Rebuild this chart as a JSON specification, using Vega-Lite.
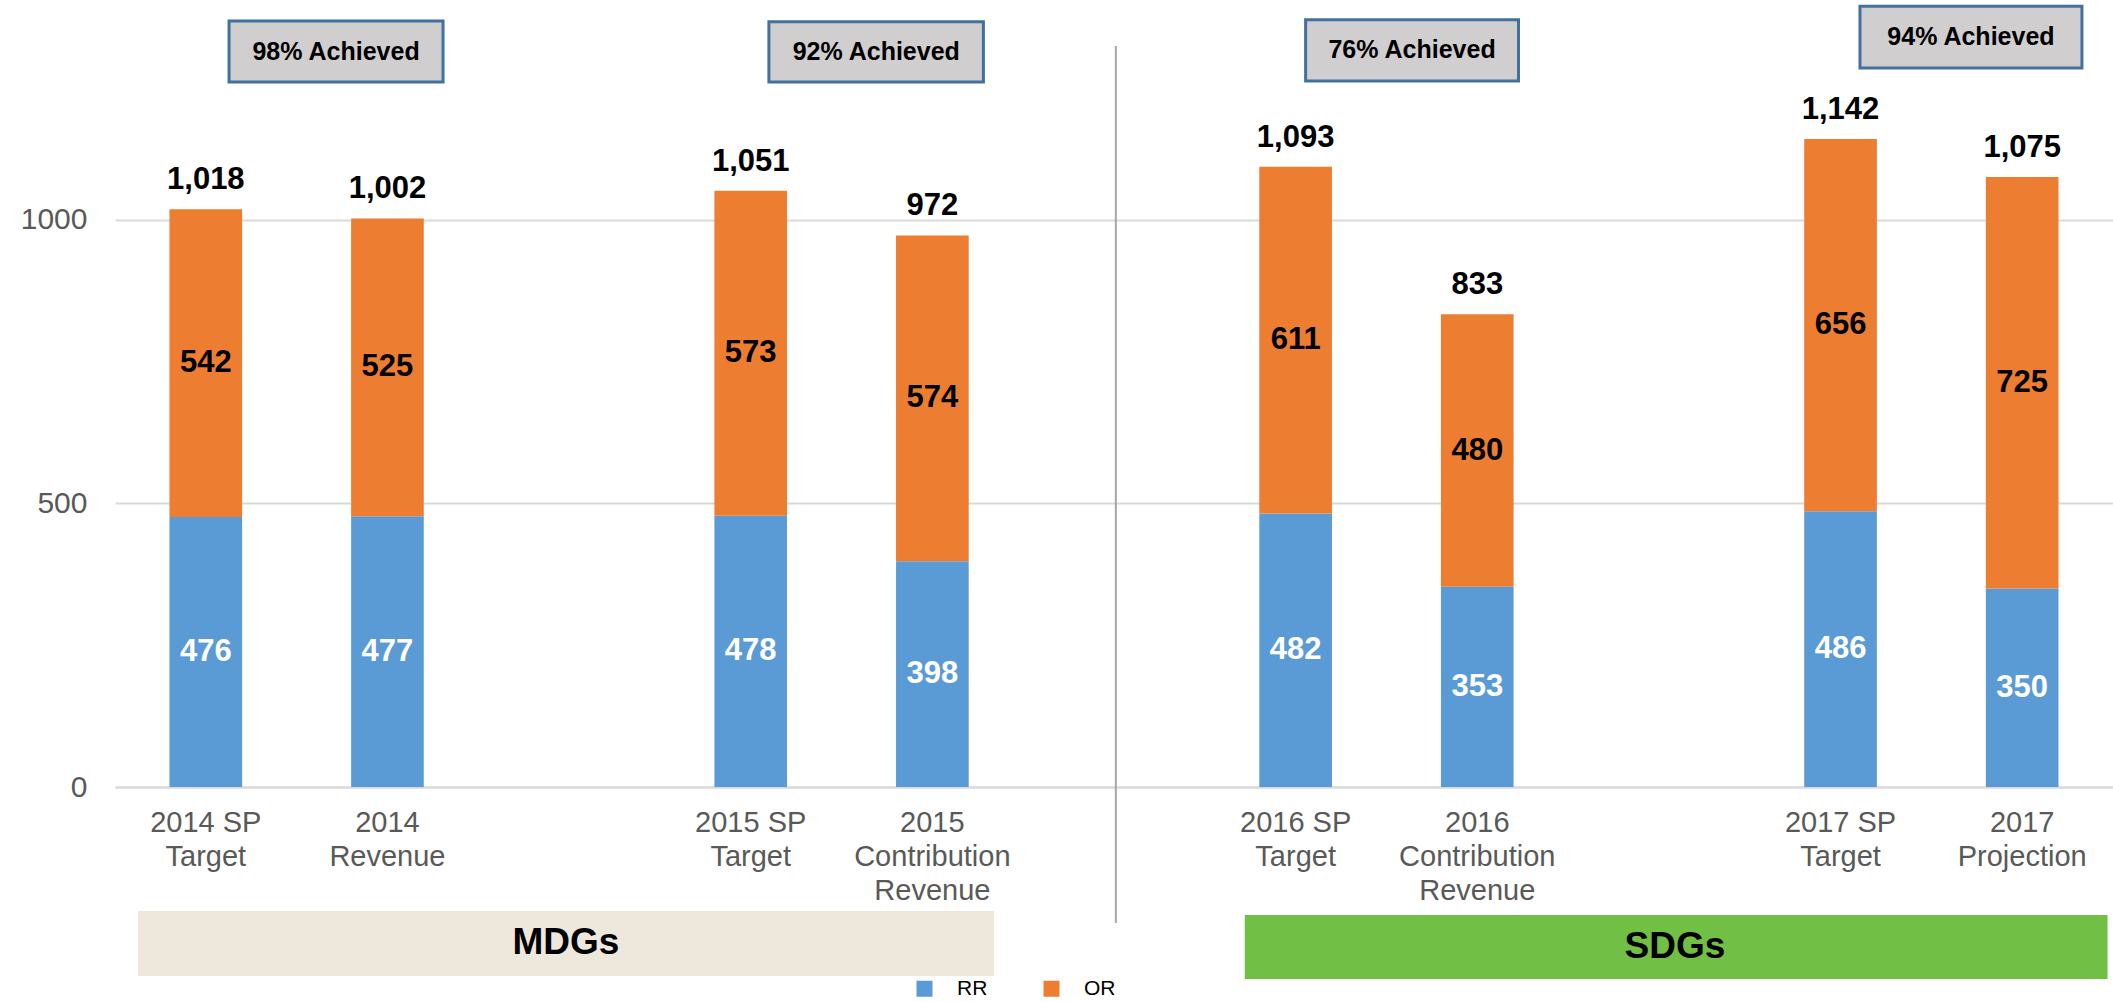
{
  "$schema": "https://vega.github.io/schema/vega-lite/v6.json",
  "width": 1998,
  "height": 787,
  "autosize": {"type": "none"},
  "padding": {"left": 115, "top": 0, "right": 0, "bottom": 215},
  "background": "white",
  "config": {"view": {"stroke": null}, "font": "Liberation Sans"},
  "datasets": {
    "revenue": [
      {"cat": "2014 SP|Target", "series": "RR", "value": 476},
      {"cat": "2014 SP|Target", "series": "OR", "value": 542},
      {"cat": "2014|Revenue", "series": "RR", "value": 477},
      {"cat": "2014|Revenue", "series": "OR", "value": 525},
      {"cat": "2015 SP|Target", "series": "RR", "value": 478},
      {"cat": "2015 SP|Target", "series": "OR", "value": 573},
      {"cat": "2015|Contribution|Revenue", "series": "RR", "value": 398},
      {"cat": "2015|Contribution|Revenue", "series": "OR", "value": 574},
      {"cat": "2016 SP|Target", "series": "RR", "value": 482},
      {"cat": "2016 SP|Target", "series": "OR", "value": 611},
      {"cat": "2016|Contribution|Revenue", "series": "RR", "value": 353},
      {"cat": "2016|Contribution|Revenue", "series": "OR", "value": 480},
      {"cat": "2017 SP|Target", "series": "RR", "value": 486},
      {"cat": "2017 SP|Target", "series": "OR", "value": 656},
      {"cat": "2017|Projection", "series": "RR", "value": 350},
      {"cat": "2017|Projection", "series": "OR", "value": 725}
    ],
    "boxes": [
      {"label": "98% Achieved", "x0": 0.128, "x1": 1.306, "y0": 1242.5, "y1": 1350, "xc": 0.717, "yc": 1296},
      {"label": "92% Achieved", "x0": 3.1, "x1": 4.281, "y0": 1242.5, "y1": 1348.7, "xc": 3.691, "yc": 1295.6},
      {"label": "76% Achieved", "x0": 6.055, "x1": 7.227, "y0": 1244.2, "y1": 1352.3, "xc": 6.641, "yc": 1298.2},
      {"label": "94% Achieved", "x0": 9.107, "x1": 10.329, "y0": 1267.2, "y1": 1375.9, "xc": 9.718, "yc": 1321.5}
    ],
    "groups": [
      {"label": "MDGs", "x0": -0.373, "x1": 4.34, "y0": -333.1, "y1": -218.5, "xc": 1.983, "yc": -275.8},
      {"label": "SDGs", "x0": 5.72, "x1": 10.47, "y0": -338.4, "y1": -225.6, "xc": 8.088, "yc": -282}
    ],
    "divider": [{"x": 5.01, "y0": -239.7, "y1": 1306}]
  },
  "layer": [
    {
      "layer": [
        {
          "data": {"name": "revenue"},
          "mark": {"type": "bar"},
          "encoding": {
            "x": {
              "field": "cat", "type": "nominal",
              "scale": {"domain": ["2014 SP|Target", "2014|Revenue", "gap1", "2015 SP|Target", "2015|Contribution|Revenue", "gap2", "2016 SP|Target", "2016|Contribution|Revenue", "gap3", "2017 SP|Target", "2017|Projection"], "paddingInner": 0.6, "paddingOuter": 0.3},
              "axis": {"title": null, "labelExpr": "indexof(datum.value, 'gap') == 0 ? '' : split(datum.value, '|')", "labelFontSize": 29, "labelColor": "#595959", "labelLineHeight": 34, "labelPadding": 21, "ticks": false, "tickSize": 0, "domainColor": "#d9d9d9", "domainWidth": 2, "labelAngle": 0, "labelBaseline": "top", "labelLimit": 400, "grid": false}
            },
            "y": {
              "field": "value", "type": "quantitative", "title": null,
              "scale": {"domain": [0, 1387], "nice": false},
              "axis": {"values": [0, 500, 1000], "format": "d", "grid": true, "gridColor": "#d9d9d9", "gridWidth": 2, "domain": false, "ticks": false, "labelFontSize": 30, "labelColor": "#595959", "labelPadding": 28, "title": null}
            },
            "color": {
              "field": "series", "type": "nominal",
              "scale": {"domain": ["RR", "OR"], "range": ["#5B9BD5", "#ED7D31"]},
              "legend": {"orient": "none", "legendX": 799, "legendY": 978, "direction": "horizontal", "title": null, "symbolType": "square", "symbolSize": 256, "symbolStrokeWidth": 0, "labelFontSize": 21, "labelColor": "#000000", "labelOffset": 22, "columnPadding": 53, "padding": 0}
            },
            "order": {"field": "series", "sort": "descending"}
          }
        },
        {
          "data": {"name": "revenue"},
          "mark": {"type": "text", "fontSize": 31, "fontWeight": "bold"},
          "encoding": {
            "x": {"field": "cat", "type": "nominal"},
            "y": {"field": "value", "type": "quantitative", "stack": "zero", "bandPosition": 0.5, "title": null},
            "order": {"field": "series", "sort": "descending"},
            "text": {"field": "value", "type": "quantitative"},
            "color": {"condition": {"test": "datum.series === 'RR'", "value": "white"}, "value": "black"}
          }
        },
        {
          "data": {"name": "revenue"},
          "mark": {"type": "text", "fontSize": 31, "fontWeight": "bold", "baseline": "alphabetic", "dy": -20, "color": "black"},
          "encoding": {
            "x": {"field": "cat", "type": "nominal"},
            "y": {"aggregate": "sum", "field": "value", "type": "quantitative", "title": null},
            "text": {"aggregate": "sum", "field": "value", "type": "quantitative", "format": ","}
          }
        }
      ]
    },
    {
      "layer": [
        {
          "data": {"name": "divider"},
          "mark": {"type": "rule", "color": "#a6a6a6", "strokeWidth": 2},
          "encoding": {
            "x": {"field": "x", "type": "quantitative", "scale": {"domain": [-0.5, 10.5], "nice": false, "zero": false}, "axis": null},
            "y": {"field": "y0", "type": "quantitative", "title": null},
            "y2": {"field": "y1"}
          }
        },
        {
          "data": {"name": "boxes"},
          "mark": {"type": "rect", "fill": "#D0CECE", "stroke": "#41719C", "strokeWidth": 3},
          "encoding": {
            "x": {"field": "x0", "type": "quantitative", "axis": null},
            "x2": {"field": "x1"},
            "y": {"field": "y0", "type": "quantitative", "title": null},
            "y2": {"field": "y1"}
          }
        },
        {
          "data": {"name": "boxes"},
          "mark": {"type": "text", "fontSize": 25, "fontWeight": "bold", "color": "black"},
          "encoding": {
            "x": {"field": "xc", "type": "quantitative", "axis": null},
            "y": {"field": "yc", "type": "quantitative", "title": null},
            "text": {"field": "label"}
          }
        },
        {
          "data": {"name": "groups"},
          "transform": [{"filter": "datum.label === 'MDGs'"}],
          "mark": {"type": "rect", "fill": "#EEE8DC"},
          "encoding": {
            "x": {"field": "x0", "type": "quantitative", "axis": null},
            "x2": {"field": "x1"},
            "y": {"field": "y0", "type": "quantitative", "title": null},
            "y2": {"field": "y1"}
          }
        },
        {
          "data": {"name": "groups"},
          "transform": [{"filter": "datum.label === 'SDGs'"}],
          "mark": {"type": "rect", "fill": "#71BF44"},
          "encoding": {
            "x": {"field": "x0", "type": "quantitative", "axis": null},
            "x2": {"field": "x1"},
            "y": {"field": "y0", "type": "quantitative", "title": null},
            "y2": {"field": "y1"}
          }
        },
        {
          "data": {"name": "groups"},
          "mark": {"type": "text", "fontSize": 37, "fontWeight": "bold", "color": "black"},
          "encoding": {
            "x": {"field": "xc", "type": "quantitative", "axis": null},
            "y": {"field": "yc", "type": "quantitative", "title": null},
            "text": {"field": "label"}
          }
        }
      ]
    }
  ],
  "resolve": {"scale": {"x": "independent"}}
}
